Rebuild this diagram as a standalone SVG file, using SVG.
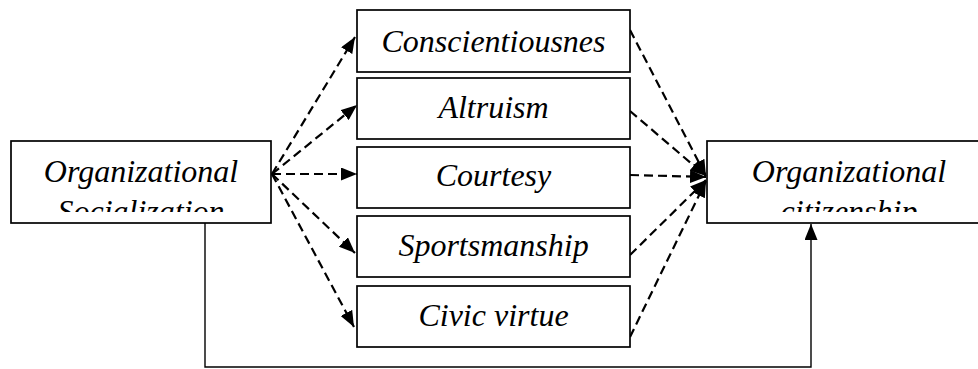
<svg xmlns="http://www.w3.org/2000/svg" width="978" height="369" viewBox="0 0 978 369">
<style>
.box{fill:#fff;stroke:#000;stroke-width:1.7}
.t{font-family:"Liberation Serif","Times New Roman",serif;font-style:italic;font-size:32px;fill:#000;text-anchor:middle}
.d{fill:none;stroke:#000;stroke-width:2.2;stroke-dasharray:9,5}
.s{fill:none;stroke:#000;stroke-width:1.4}
</style>
<defs>
<marker id="ah" viewBox="0 0 16 13" refX="16" refY="6.5" markerWidth="16" markerHeight="13" markerUnits="userSpaceOnUse" orient="auto">
<path d="M0,0 L16,6.5 L0,13 Z" fill="#000"/>
</marker>
<clipPath id="cl"><rect x="11" y="141" width="260" height="71"/></clipPath>
<clipPath id="cr"><rect x="707" y="141" width="280" height="71"/></clipPath>
</defs>
<g id="connectors">
<line class="d" x1="272" y1="174" x2="355" y2="37" marker-end="url(#ah)"/>
<line class="d" x1="272" y1="174" x2="357" y2="105" marker-end="url(#ah)"/>
<line class="d" x1="272" y1="174" x2="357" y2="174" marker-end="url(#ah)"/>
<line class="d" x1="272" y1="174" x2="355" y2="253" marker-end="url(#ah)"/>
<line class="d" x1="272" y1="174" x2="354" y2="327" marker-end="url(#ah)"/>
<line class="d" x1="630" y1="30" x2="706" y2="176" marker-end="url(#ah)"/>
<line class="d" x1="630" y1="111" x2="706" y2="176" marker-end="url(#ah)"/>
<line class="d" x1="630" y1="175" x2="706" y2="177" marker-end="url(#ah)"/>
<line class="d" x1="630" y1="255" x2="706" y2="180" marker-end="url(#ah)"/>
<line class="d" x1="630" y1="337" x2="706" y2="181" marker-end="url(#ah)"/>
<polyline class="s" points="205,223 205,367 811,367 811,224" marker-end="url(#ah)"/>
</g>
<g id="n-socialization">
<rect class="box" x="11" y="141" width="260" height="82"/>
<g clip-path="url(#cl)">
<text class="t" x="141" y="182">Organizational</text>
<text class="t" x="141" y="222">Socialization</text>
</g>
</g>
<g id="n-conscientiousness">
<rect class="box" x="357" y="10" width="273" height="62"/>
<text class="t" x="493.5" y="52">Conscientiousnes</text>
</g>
<g id="n-altruism">
<rect class="box" x="357" y="78" width="273" height="61"/>
<text class="t" x="493.5" y="118">Altruism</text>
</g>
<g id="n-courtesy">
<rect class="box" x="357" y="147" width="273" height="61"/>
<text class="t" x="493.5" y="186">Courtesy</text>
</g>
<g id="n-sportsmanship">
<rect class="box" x="357" y="216" width="273" height="61"/>
<text class="t" x="493.5" y="256">Sportsmanship</text>
</g>
<g id="n-civic">
<rect class="box" x="357" y="286" width="273" height="61"/>
<text class="t" x="493.5" y="326">Civic virtue</text>
</g>
<g id="n-citizenship">
<rect class="box" x="707" y="141" width="290" height="82"/>
<g clip-path="url(#cr)">
<text class="t" x="849" y="182">Organizational</text>
<text class="t" x="849" y="222">citizenship</text>
</g>
</g>
</svg>
